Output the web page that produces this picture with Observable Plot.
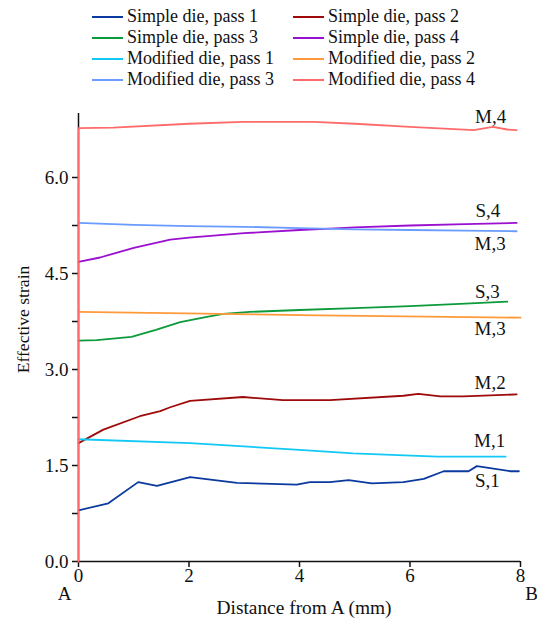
<!DOCTYPE html>
<html>
<head>
<meta charset="utf-8">
<script src="https://cdn.jsdelivr.net/npm/d3@7"></script>
<script src="https://cdn.jsdelivr.net/npm/@observablehq/plot@0.6"></script>
<style>
  html, body { margin: 0; padding: 0; background: #fff; }
  #wrap { width: 537px; height: 618px; position: relative; font-family: "Liberation Serif", "Times New Roman", serif; }
  #legend { position: relative; width: 537px; height: 100px; }
  .item { position: absolute; display: flex; align-items: center; font-size: 18px; line-height: 21px; color: #111; white-space: nowrap; }
  .sw { width: 31px; height: 2px; margin-right: 4px; }
</style>
</head>
<body>
<div id="wrap">
  <div id="legend"></div>
  <div id="chart"></div>
</div>
<script>
// ---- Data ----
const seriesNames = [
  "Simple die, pass 1", "Simple die, pass 2", "Simple die, pass 3", "Simple die, pass 4",
  "Modified die, pass 1", "Modified die, pass 2", "Modified die, pass 3", "Modified die, pass 4"
];
const seriesColors = ["#0a3a9e", "#9e0a0a", "#0c9a3a", "#9a10d0", "#12c8f5", "#ff9a3a", "#6a9cff", "#ff6b6b"];

const xS1 = [0, 0.54, 1.08, 1.42, 2.02, 2.87, 3.95, 4.19, 4.55, 4.89, 5.31, 5.88, 6.25, 6.61, 7.06, 7.21, 7.82, 7.97];
const yS1 = [0.80, 0.91, 1.24, 1.18, 1.32, 1.23, 1.20, 1.24, 1.24, 1.27, 1.22, 1.24, 1.29, 1.41, 1.41, 1.49, 1.41, 1.41];

const xS2 = [0, 0.45, 1.11, 1.48, 1.66, 2.02, 2.98, 3.7, 4.55, 5.88, 6.15, 6.55, 6.97, 7.93];
const yS2 = [1.85, 2.06, 2.27, 2.35, 2.41, 2.51, 2.57, 2.52, 2.52, 2.59, 2.62, 2.58, 2.58, 2.61];

const xS3 = [0, 0.33, 0.96, 1.4, 1.84, 2.3, 2.62, 3.1, 4, 5, 6, 7, 7.76];
const yS3 = [3.45, 3.46, 3.51, 3.62, 3.74, 3.82, 3.87, 3.90, 3.93, 3.96, 3.99, 4.03, 4.06];

const xS4 = [0, 0.39, 1, 1.66, 2, 3, 4, 4.55, 5, 6, 7, 7.93];
const yS4 = [4.68, 4.75, 4.90, 5.03, 5.06, 5.13, 5.18, 5.20, 5.22, 5.25, 5.27, 5.29];

const xM1 = [0, 2.02, 4.07, 4.97, 6.49, 7.73];
const yM1 = [1.91, 1.85, 1.74, 1.69, 1.64, 1.64];

const xM2 = [0, 4, 8];
const yM2 = [3.90, 3.85, 3.81];

const xM3 = [0, 1, 2, 3, 4, 5, 6, 7, 7.93];
const yM3 = [5.29, 5.26, 5.24, 5.23, 5.21, 5.19, 5.18, 5.17, 5.16];

const xM4 = [0, 0, 0.63, 2, 2.98, 4.25, 5, 6, 7.15, 7.5, 7.76, 7.93];
const yM4 = [0, 6.77, 6.78, 6.84, 6.87, 6.87, 6.84, 6.79, 6.74, 6.79, 6.75, 6.74];

const xTicks = [0, 2, 4, 6, 8];
const yTicks = [0, 0.75, 1.5, 2.25, 3.0, 3.75, 4.5, 5.25, 6.0];

const labelText = ["M,4", "S,4", "M,3", "S,3", "M,3", "M,2", "M,1", "S,1"];
const labelX = [7.46, 7.41, 7.45, 7.40, 7.45, 7.45, 7.44, 7.40];
const labelY = [6.85, 5.39, 5.075, 4.12, 3.745, 2.70, 1.79, 1.37];
const labelLine = ["bottom", "bottom", "top", "bottom", "top", "bottom", "bottom", "top"];

// ---- Build table ----
const xs = [xS1, xS2, xS3, xS4, xM1, xM2, xM3, xM4];
const ys = [yS1, yS2, yS3, yS4, yM1, yM2, yM3, yM4];
const rows = [];
xs.forEach((xa, i) => xa.forEach((x, j) => rows.push({series: seriesNames[i], x, y: ys[i][j]})));
const labels = labelText.map((t, i) => ({t, x: labelX[i], y: labelY[i], la: labelLine[i]}));

// ---- Legend ----
const legend = document.getElementById("legend");
seriesNames.forEach((name, i) => {
  const col = i % 2, row = Math.floor(i / 2);
  const el = document.createElement("div");
  el.className = "item";
  el.style.left = (col === 0 ? 92 : 293) + "px";
  el.style.top = (6 + row * 21) + "px";
  el.innerHTML = `<span class="sw" style="background:${seriesColors[i]}"></span><span>${name}</span>`;
  legend.appendChild(el);
});

// ---- Chart ----
const chart = Plot.plot({
  width: 537,
  height: 518,
  marginTop: 13,
  marginBottom: 57,
  marginLeft: 78,
  marginRight: 17,
  style: {fontFamily: "Liberation Serif, Times New Roman, serif", fontSize: "19px", color: "#111", background: "#fff"},
  x: {domain: [0, 8]},
  y: {domain: [0, 7]},
  color: {domain: seriesNames, range: seriesColors},
  marks: [
    Plot.ruleX([0], {stroke: "#111", strokeWidth: 1.5}),
    Plot.ruleY([0], {stroke: "#111", strokeWidth: 1.5}),
    Plot.axisX({ticks: xTicks, tickSize: 6, tickPadding: 1, label: null, stroke: "#111", strokeWidth: 1.5}),
    Plot.axisY({ticks: yTicks, tickSize: 6, tickPadding: 4, label: null, stroke: "#111", strokeWidth: 1.5,
      tickFormat: d => (Math.abs(d / 1.5 - Math.round(d / 1.5)) < 1e-9 ? d.toFixed(1) : "")}),
    Plot.line(rows, {x: "x", y: "y", z: "series", stroke: "series", strokeWidth: 1.8, curve: "linear"}),
    Plot.text(labels.filter(d => d.la === "bottom"), {x: "x", y: "y", text: "t", lineAnchor: "bottom", fill: "#111"}),
    Plot.text(labels.filter(d => d.la === "top"), {x: "x", y: "y", text: "t", lineAnchor: "top", fill: "#111"}),
    Plot.text([{x: 0, y: 0, t: "A"}], {x: "x", y: "y", text: "t", dx: -14, dy: 32, fill: "#111"}),
    Plot.text([{x: 8, y: 0, t: "B"}], {x: "x", y: "y", text: "t", dx: 11, dy: 32, fill: "#111"}),
    Plot.text(["Distance from A (mm)"], {frameAnchor: "bottom", textAnchor: "middle", lineAnchor: "middle", dx: 4.5, dy: 46, fontSize: 19.4, fill: "#111"}),
    Plot.text(["Effective strain"], {frameAnchor: "left", textAnchor: "middle", lineAnchor: "middle", dx: -55, dy: -18, rotate: -90, fontSize: 17.6, fill: "#111"})
  ]
});
document.getElementById("chart").appendChild(chart);
</script>
</body>
</html>
